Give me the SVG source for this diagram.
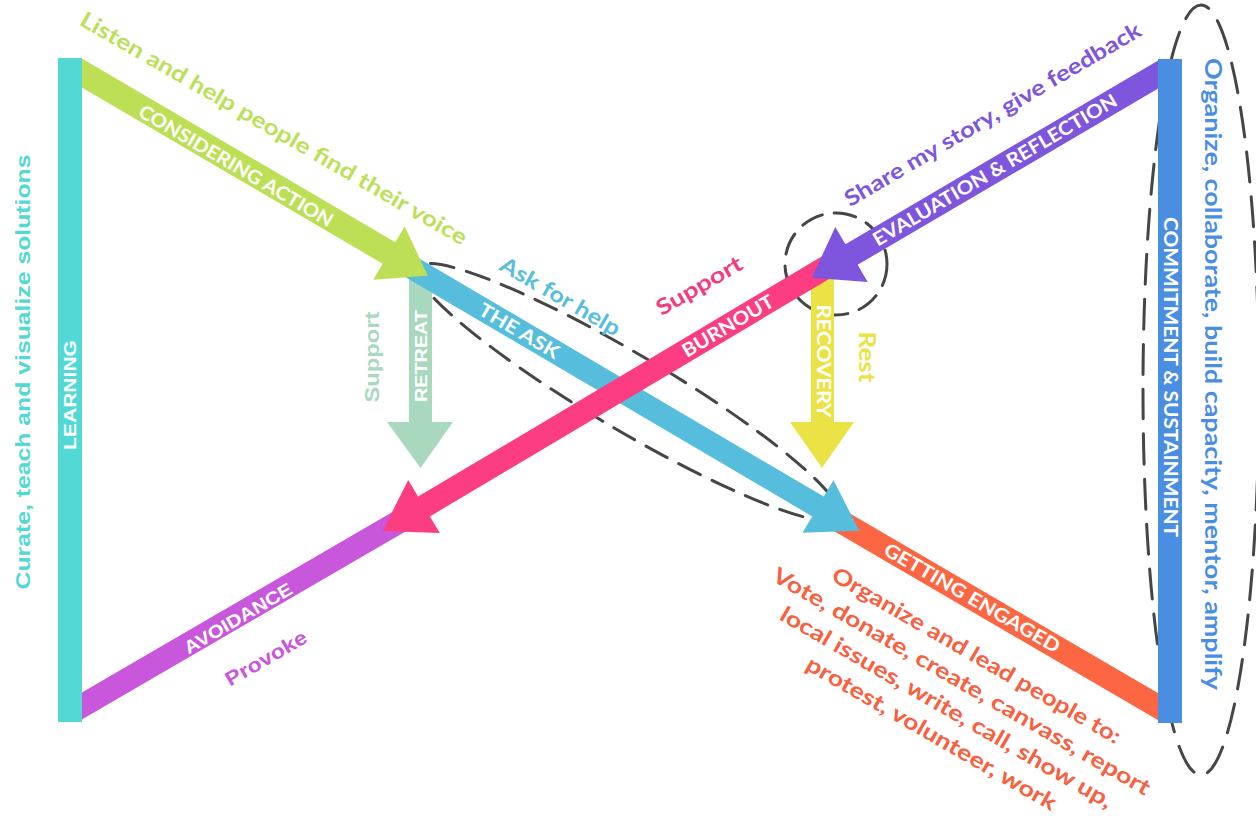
<svg xmlns="http://www.w3.org/2000/svg" width="1256" height="816" viewBox="0 0 1256 816">
<style>
.dash{fill:none;stroke:#464646;stroke-width:3;stroke-linecap:round}
.cap{font-family:Lato,"Open Sans",sans-serif;font-weight:700;fill:#ffffff;font-size:19px;text-anchor:middle}
.lbl{font-family:Lato,"Open Sans",sans-serif;font-weight:700;font-size:22px;text-anchor:middle}
.ar{font-family:"Liberation Sans",Arial,sans-serif;font-weight:700;text-anchor:middle}
</style>
<rect width="1256" height="816" fill="#ffffff"/>
<g id="annotations">
<ellipse class="dash" cx="628" cy="392" rx="244" ry="38" transform="rotate(30.6 628 392)" stroke-dasharray="24 13"/>
<circle class="dash" cx="836" cy="264" r="51" stroke-dasharray="22 12"/>
<ellipse class="dash" cx="1201" cy="390" rx="58" ry="385" stroke-dasharray="30 15"/>
</g>
<g id="connectors">
<polygon id="retreat" points="409,276 432,276 432,422 453,422 420.5,468 387,422 409,422" fill="#a8d9bf"/>
<polygon id="recovery" points="811,268 834,268 834,422 854,422 822,468 790,422 811,422" fill="#ebe345"/>
<polygon id="getting-engaged" points="830,501.8 1160,694.2 1160,721.2 830,528.8" fill="#fd6643"/>
<polygon id="the-ask" points="415.8,256.6 823.8,496.6 833.5,480.2 859.4,530.8 802.5,532.8 812.2,516.4 404.2,276.4" fill="#56bedc"/>
<polygon id="considering-action" points="81,57.9 395.3,242.2 404.7,226.3 427.8,275.8 373.3,279.7 382.7,263.8 81,86.9" fill="#bddf55"/>
<polygon id="avoidance" points="81,693 415,498.9 415,525.9 81,720" fill="#c957dc"/>
<polygon id="burnout" points="824.1,255.1 418.1,496.6 408.2,479.9 382.7,531 439.8,533.1 429.9,516.4 835.9,274.9" fill="#fd3d81"/>
<polygon id="evaluation" points="1159,60 845.4,244.2 835.3,226.9 811.8,277.8 867.7,282.1 857.6,264.8 1159,88" fill="#7e55dd"/>
</g>
<g id="learning">
<rect x="58" y="58" width="24" height="664" fill="#52d9d5"/>
<text class="ar" font-size="17" fill="#ffffff" transform="translate(70,395) rotate(-90)" y="6" textLength="110" lengthAdjust="spacingAndGlyphs">LEARNING</text>
<text class="ar" font-size="21" fill="#52d9d5" transform="translate(22,372) rotate(-90)" y="7.5" textLength="435" lengthAdjust="spacingAndGlyphs">Curate, teach and visualize solutions</text>
</g>
<g id="commitment">
<rect x="1158" y="59" width="24" height="664" fill="#4a8ee2"/>
<text class="cap" transform="translate(1170,377) rotate(90)" y="6.5" textLength="320" lengthAdjust="spacingAndGlyphs">COMMITMENT &amp; SUSTAINMENT</text>
<text class="lbl" font-size="23" fill="#4a8ee2" transform="translate(1212,374) rotate(90)" y="7.5" textLength="632" lengthAdjust="spacingAndGlyphs">Organize, collaborate, build capacity, mentor, amplify</text>
</g>
<g id="labels">
<text class="lbl" font-size="23" fill="#bde05b" transform="translate(270,135) rotate(30)" textLength="443" lengthAdjust="spacingAndGlyphs">Listen and help people find their voice</text>
<text class="cap" transform="translate(236,166) rotate(30.4)" y="6.5" textLength="222" lengthAdjust="spacingAndGlyphs">CONSIDERING ACTION</text>
<text class="lbl" fill="#56bedc" transform="translate(560,297) rotate(30)" y="7" textLength="135" lengthAdjust="spacingAndGlyphs">Ask for help</text>
<text class="cap" transform="translate(519,331) rotate(30.5)" y="6.5" textLength="90" lengthAdjust="spacingAndGlyphs">THE ASK</text>
<text class="lbl" fill="#f33c80" transform="translate(700,287) rotate(-30)" y="6" textLength="96" lengthAdjust="spacingAndGlyphs">Support</text>
<text class="cap" transform="translate(728,326) rotate(-30.7)" y="6.5" textLength="103" lengthAdjust="spacingAndGlyphs">BURNOUT</text>
<text class="ar" font-size="20" fill="#a8d9bf" transform="translate(372,357) rotate(-90)" y="7" textLength="91" lengthAdjust="spacingAndGlyphs">Support</text>
<text class="ar" font-size="16" fill="#ffffff" transform="translate(420.5,356) rotate(-90)" y="6" textLength="92" lengthAdjust="spacingAndGlyphs">RETREAT</text>
<text class="cap" font-size="17" transform="translate(822.5,361) rotate(90)" y="6" textLength="113" lengthAdjust="spacingAndGlyphs">RECOVERY</text>
<text class="lbl" fill="#ebe345" transform="translate(866,357) rotate(90)" y="7" textLength="51" lengthAdjust="spacingAndGlyphs">Rest</text>
<text class="lbl" fill="#7e55dd" transform="translate(993,115) rotate(-30.5)" y="7" textLength="340" lengthAdjust="spacingAndGlyphs">Share my story, give feedback</text>
<text class="cap" transform="translate(995,170) rotate(-30.5)" y="6.5" textLength="280" lengthAdjust="spacingAndGlyphs">EVALUATION &amp; REFLECTION</text>
<text class="ar" font-size="18" fill="#ffffff" transform="translate(238,618) rotate(-30.3)" y="6.5" textLength="122" lengthAdjust="spacingAndGlyphs">AVOIDANCE</text>
<text class="ar" font-size="20" fill="#c957dc" transform="translate(266,658) rotate(-30)" y="7" textLength="91" lengthAdjust="spacingAndGlyphs">Provoke</text>
<text class="cap" transform="translate(972,598) rotate(30)" y="6.5" textLength="200" lengthAdjust="spacingAndGlyphs">GETTING ENGAGED</text>
<g transform="rotate(30)" class="lbl" font-size="23" fill="#f86040">
<text x="1173.5" y="87" textLength="330" lengthAdjust="spacingAndGlyphs">Organize and lead people to:</text>
<text x="1173.5" y="117" textLength="432" lengthAdjust="spacingAndGlyphs">Vote, donate, create, canvass, report</text>
<text x="1173.5" y="147" textLength="380" lengthAdjust="spacingAndGlyphs">local issues, write, call, show up,</text>
<text x="1173.5" y="177" textLength="285" lengthAdjust="spacingAndGlyphs">protest, volunteer, work</text>
</g>
</g>
</svg>
